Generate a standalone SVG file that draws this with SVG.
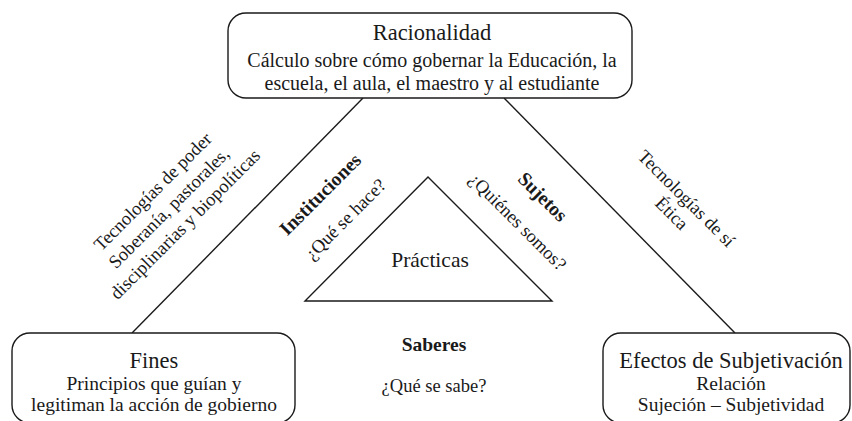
<svg xmlns="http://www.w3.org/2000/svg" width="852" height="421" viewBox="0 0 852 421">
<style>
text{font-family:"Liberation Serif","Times New Roman",serif;fill:#1a1a1a}
.box{fill:#fff;stroke:#1a1a1a;stroke-width:1.4}
.ln{stroke:#1a1a1a;stroke-width:1.4;fill:none}
.t{font-size:22.5px;text-anchor:middle}
.s{font-size:20px;text-anchor:middle}
.s2{font-size:19.5px;text-anchor:middle}
.r{font-size:18.5px;text-anchor:middle}
.b{font-size:19.5px;font-weight:bold;text-anchor:middle}
</style>
<rect width="852" height="421" fill="#fff"/>
<g id="connectors">
<line class="ln" x1="363" y1="98" x2="132" y2="333"/>
<line class="ln" x1="504" y1="98" x2="735" y2="333"/>
</g>
<g id="racionalidad">
<rect class="box" x="228" y="13" width="404" height="85" rx="18"/>
<text class="t" x="432" y="40">Racionalidad</text>
<text class="s" x="432" y="67">Cálculo sobre cómo gobernar la Educación, la</text>
<text class="s" x="432" y="90">escuela, el aula, el maestro y al estudiante</text>
</g>
<g id="fines">
<rect class="box" x="12" y="333" width="283" height="90" rx="18"/>
<text class="t" x="154" y="368">Fines</text>
<text class="s2" x="154" y="390">Principios que guían y</text>
<text class="s2" x="154" y="411">legitiman la acción de gobierno</text>
</g>
<g id="efectos">
<rect class="box" x="603" y="333" width="247" height="90" rx="18"/>
<text class="t" x="731" y="368">Efectos de Subjetivación</text>
<text class="s2" x="731" y="390">Relación</text>
<text class="s2" x="731" y="411">Sujeción – Subjetividad</text>
</g>
<g id="practicas">
<polygon class="ln" points="428,177 305,301 552,301"/>
<text x="430" y="267" style="font-size:21.5px;text-anchor:middle">Prácticas</text>
</g>
<g id="tecnologias-poder" transform="translate(169,208) rotate(-45)">
<text class="r" x="0" y="-17">Tecnologías de  poder</text>
<text class="r" x="0" y="6">Soberanía, pastorales,</text>
<text class="r" x="0" y="29">disciplinarias y biopolíticas</text>
</g>
<g id="tecnologias-si" transform="translate(679,206) rotate(45)">
<text class="r" x="0" y="-4.5">Tecnologías de sí</text>
<text class="r" x="0" y="16.5">Ética</text>
</g>
<g id="instituciones" transform="translate(333,207) rotate(-45)">
<text class="b" x="0" y="-11.5">Instituciones</text>
<text class="r" x="0" y="23.5">¿Qué se hace?</text>
</g>
<g id="sujetos" transform="translate(530,209.5) rotate(45)">
<text class="b" x="0" y="-11.5">Sujetos</text>
<text class="r" x="0" y="23.5">¿Quiénes somos?</text>
</g>
<g id="saberes">
<text class="b" x="434" y="351">Saberes</text>
<text class="r" x="434" y="392">¿Qué se sabe?</text>
</g>
</svg>
